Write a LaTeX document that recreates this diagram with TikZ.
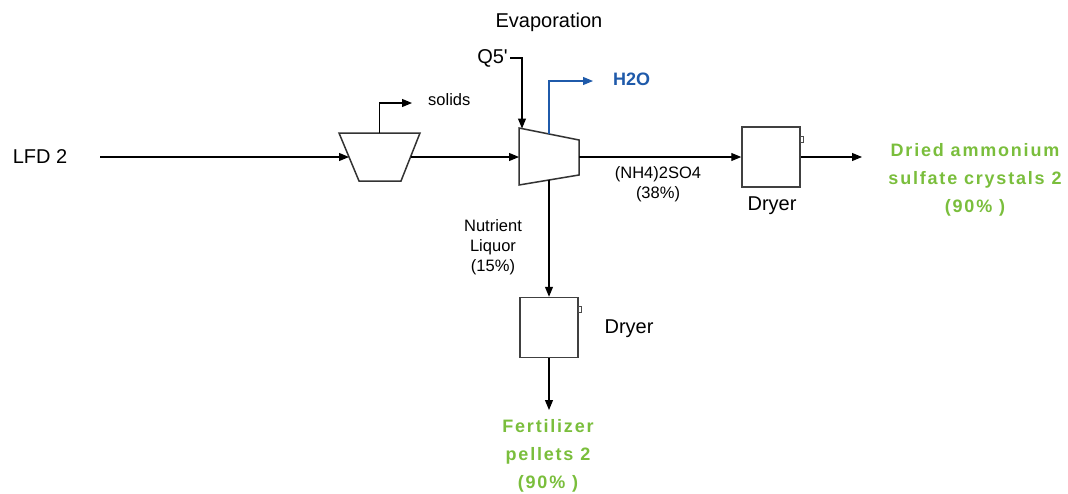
\documentclass[tikz,border=0pt]{standalone}
\usepackage{fontspec}
\setmainfont{Liberation Sans}
\usetikzlibrary{arrows.meta, positioning, calc}

\definecolor{prodgreen}{RGB}{122,190,60}
\definecolor{waterblue}{RGB}{31,90,170}

\begin{document}
\begin{tikzpicture}[
    x=1pt, y=-1pt,
    unit/.style={draw=black!80, line width=1.5pt, line join=miter},
    dryerbox/.style={draw=black!75, line width=1.5pt, rectangle, minimum width=58pt, minimum height=60pt, inner sep=0pt},
    lbl/.style={font=\fontsize{20}{24}\selectfont, inner sep=0pt},
    small/.style={font=\fontsize{16.5}{20}\selectfont, align=center, inner sep=0pt},
    product/.style={font=\fontsize{18}{28}\selectfont\bfseries\addfontfeature{LetterSpace=10}, text=prodgreen, align=center, inner sep=0pt},
    arrow/.style={-{Triangle[length=10pt,width=8pt]}, line width=1.1pt}
]
\useasboundingbox (0,0) rectangle (1068,493);

% Filter and evaporator
\draw [unit] (339,133) -- (420,133) -- (401,181) -- (359,181) -- cycle;
\coordinate (filtin) at (349,157);
\coordinate (filtout) at (410.5,157);
\coordinate (filttop) at (379.5,133);
\draw [unit] (519,128) -- (579,140) -- (579,175) -- (519,185) -- cycle;
\coordinate (evapin) at (519,157);
\coordinate (evapout) at (579,157);
\coordinate (evaptop) at (549,134);
\coordinate (evapbot) at (549,180);

% Units and labels
\node (lfd) [lbl] at (40,157) {LFD 2};
\node (solids) [small, anchor=west] at (428,100) {solids};
\node (evlbl) [lbl] at (549,22) {Evaporation};
\node (q5) [lbl, anchor=east] at (508,58) {Q5\textquotesingle};
\node (h2o) [font=\fontsize{18}{22}\selectfont\bfseries, text=waterblue, anchor=west, inner sep=0pt] at (613,79) {H2O};
\node (dry1) [dryerbox] at (771,157) {};
\node (dry1lbl) [lbl] at (772,206) {Dryer};
\node (dry2) [dryerbox] at (549,327.5) {};
\node (dry2lbl) [lbl] at (629,329) {Dryer};

% Stream labels
\node (nh4lbl) [small] at (658,184) {(NH4)2SO4\\(38\%)};
\node (nutlbl) [small] at (493,247) {Nutrient\\Liquor\\(15\%)};
\node (amsul) [product] at (975,180) {Dried ammonium\\sulfate crystals 2\\(90\% )};
\node (fert) [product] at (548,456) {Fertilizer\\pellets 2\\(90\% )};

% Free ends
\coordinate (lfdout) at (100,157);
\coordinate (solout) at (412,103);
\coordinate (q5in) at (522,128.5);
\coordinate (h2oout) at (593,81);
\coordinate (amsulin) at (862,157);
\coordinate (fertin) at (549,410);

% Small tabs on dryers
\draw[line width=1pt, black!70] ($(dry1.north east)+(0,10)$) rectangle ++(3,6);
\draw[line width=1pt, black!70] ($(dry2.north east)+(0,10)$) rectangle ++(3,6);

% Streams
\draw [arrow] (lfdout) -- (filtin);
\draw [arrow] (filttop) |- (solout);
\draw [arrow] (filtout) -- (evapin);
\draw [arrow] ([xshift=2pt]q5.east) -| (q5in);
\draw [arrow, color=waterblue] (evaptop) |- (h2oout);
\draw [arrow] (evapout) -- (dry1);
\draw [arrow] (dry1) -- (amsulin);
\draw [arrow] (evapbot) -- (dry2.north);
\draw [arrow] (dry2) -- (fertin);

\end{tikzpicture}
\end{document}
